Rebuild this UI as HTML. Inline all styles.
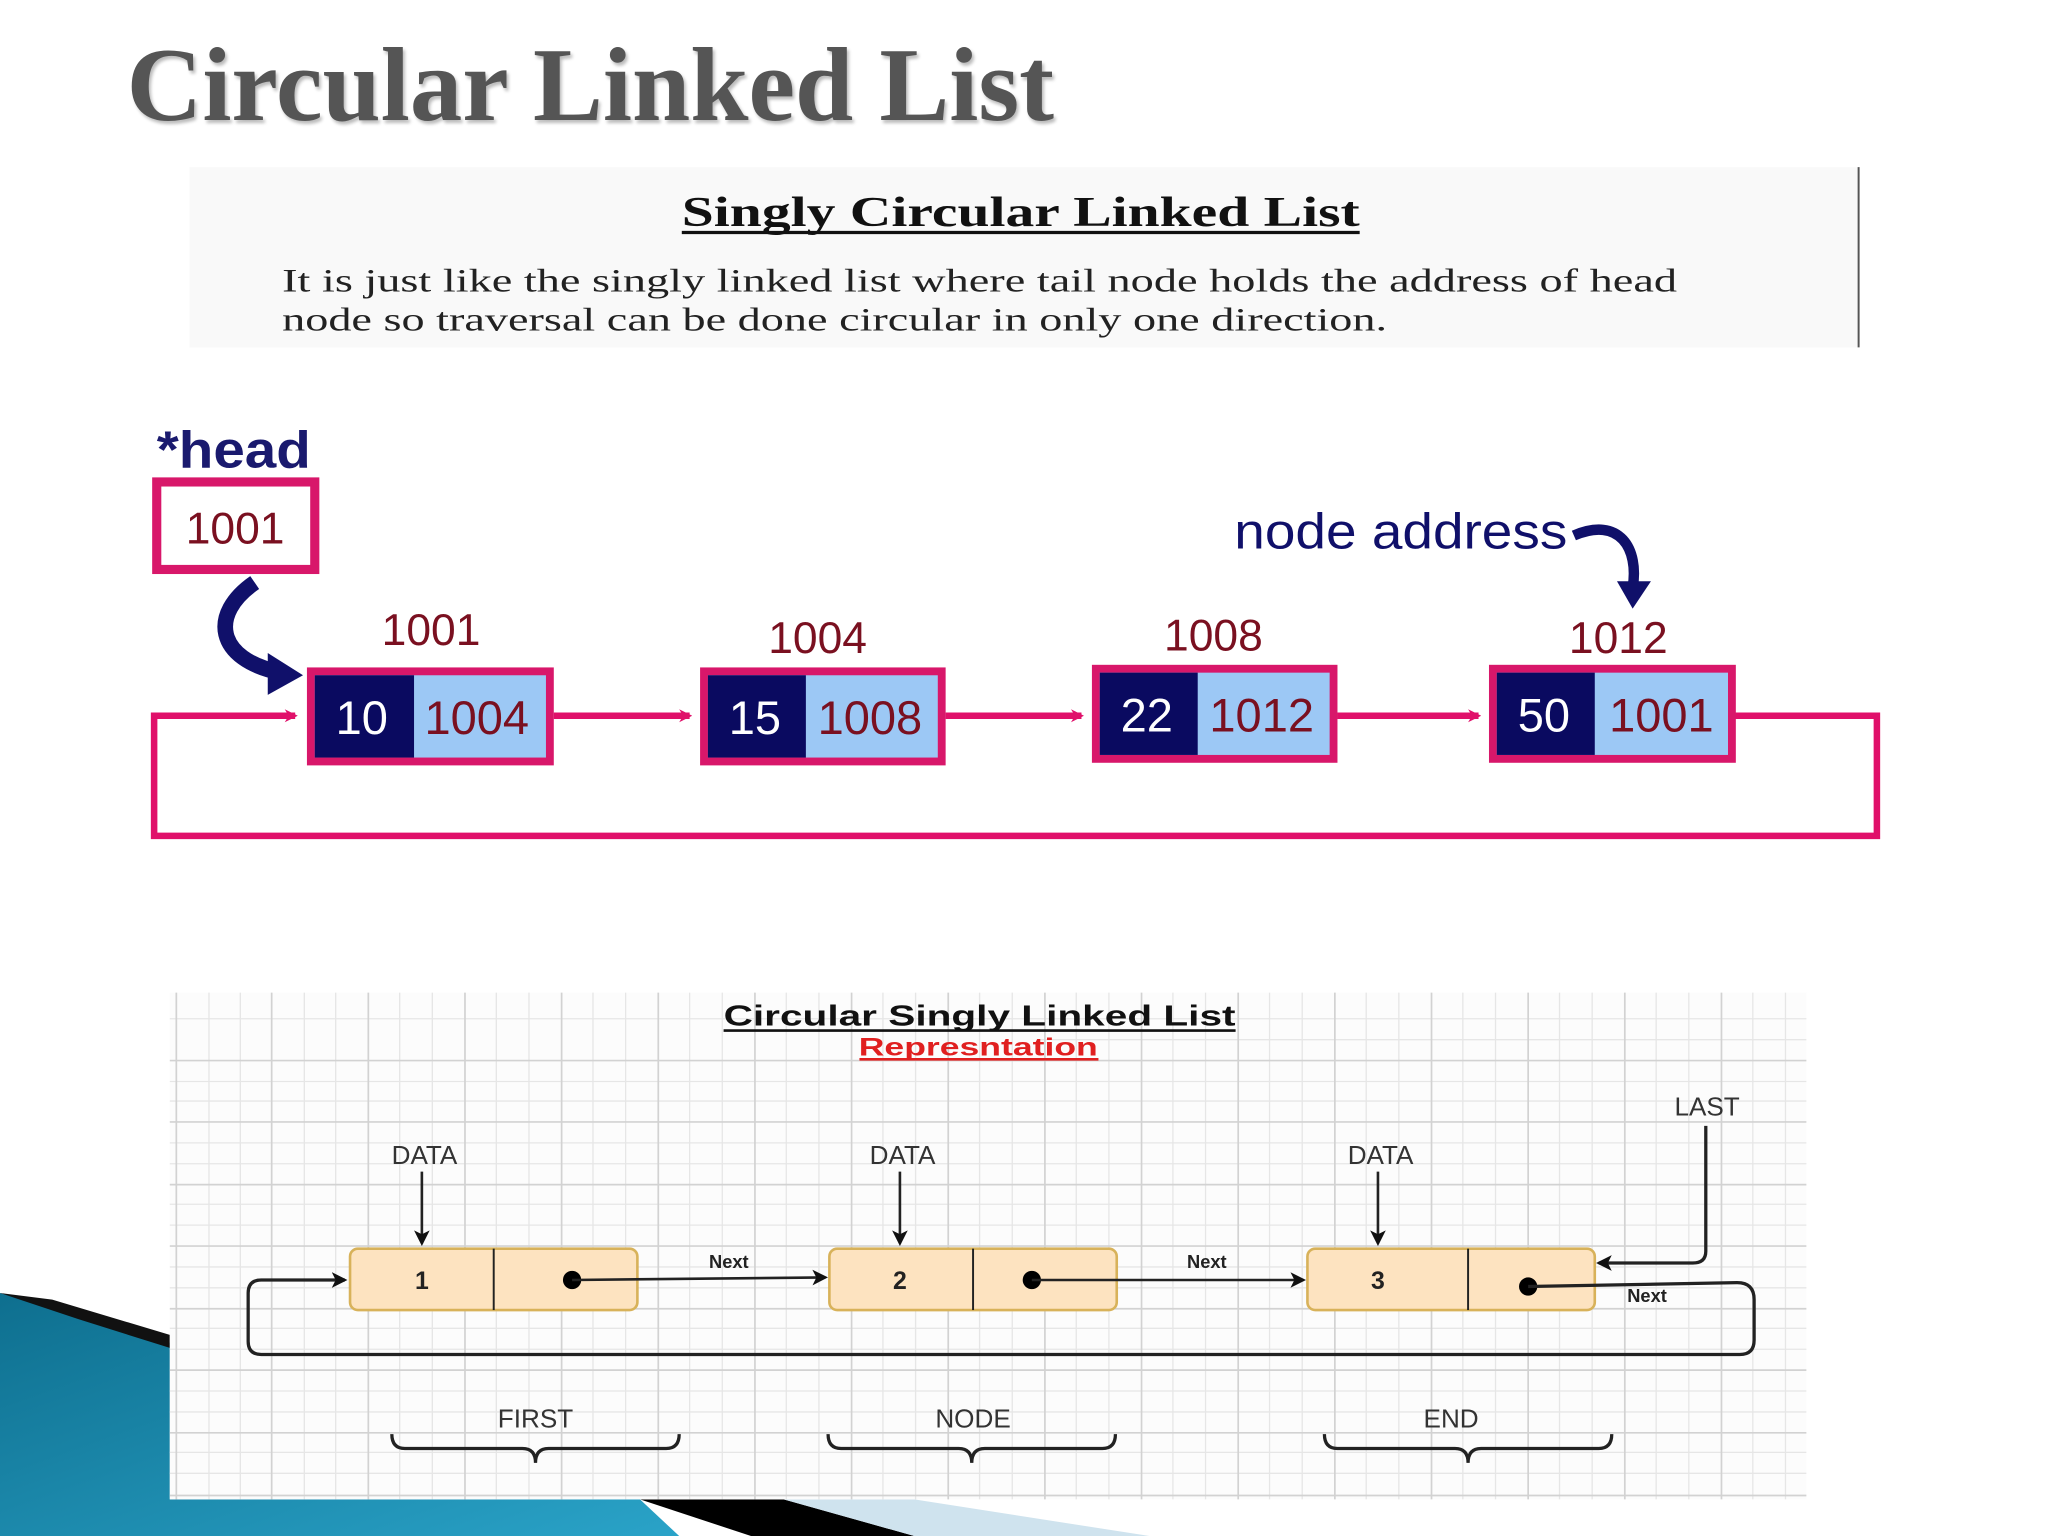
<!DOCTYPE html>
<html><head><meta charset="utf-8"><style>
html,body{margin:0;padding:0;background:#fff;overflow:hidden}
svg{display:block}
</style></head><body>
<svg width="2048" height="1536" viewBox="0 0 1568 1176" preserveAspectRatio="none" xmlns="http://www.w3.org/2000/svg">
<defs>
<marker id="pa" markerWidth="10" markerHeight="10" refX="8" refY="5" orient="auto" markerUnits="userSpaceOnUse"><path d="M0,0 L10,5 L0,10 L3,5Z" fill="#e0106a"/></marker>
<marker id="ba" markerWidth="12" markerHeight="12" refX="10" refY="6" orient="auto" markerUnits="userSpaceOnUse"><path d="M0,0 L12,6 L0,12 L3,6Z" fill="#111"/></marker>
<linearGradient id="tg" x1="0" y1="0" x2="1" y2="1"><stop offset="0" stop-color="#0e6f8f"/><stop offset="1" stop-color="#2aa3c8"/></linearGradient>
</defs>
<rect width="1568" height="1176" fill="#fff"/>
<!-- left decoration -->
<polygon points="0,990 130,1028 130,1148 490,1148 520,1176 0,1176" fill="url(#tg)"/>
<polygon points="0,990 40,995 130,1022 130,1032 60,1010" fill="#111"/>
<polygon points="490,1148 600,1148 700,1176 575,1176" fill="#000"/>
<polygon points="600,1148 700,1148 880,1176 700,1176" fill="#cfe3ee"/>
<!-- title -->
<text x="97" y="92" font-family="Liberation Serif,serif" font-weight="bold" font-size="80" fill="#555" textLength="710" lengthAdjust="spacingAndGlyphs" style="text-shadow:2px 3px 3px #bbb">Circular Linked List</text>
<!-- text box -->
<rect x="145" y="128" width="1278" height="138" fill="#f9f9f9"/>
<line x1="1423" y1="128" x2="1423" y2="266" stroke="#555" stroke-width="1.5"/>
<text x="522" y="173" font-family="Liberation Serif,serif" font-weight="bold" font-size="32" fill="#111" textLength="519" lengthAdjust="spacingAndGlyphs">Singly Circular Linked List</text>
<line x1="522" y1="178" x2="1041" y2="178" stroke="#111" stroke-width="2.5"/>
<text x="216" y="223" font-family="Liberation Serif,serif" font-size="25" fill="#222" textLength="1068" lengthAdjust="spacingAndGlyphs">It is just like the singly linked list where tail node holds the address of head</text>
<text x="216" y="253" font-family="Liberation Serif,serif" font-size="25" fill="#222" textLength="846" lengthAdjust="spacingAndGlyphs">node so traversal can be done circular in only one direction.</text>
<!-- top diagram -->
<text x="120" y="358" font-family="Liberation Sans,sans-serif" font-weight="bold" font-size="40" fill="#1a1a6e" textLength="118" lengthAdjust="spacingAndGlyphs">*head</text>
<rect x="120" y="369" width="121" height="67" fill="#fff" stroke="#d8176a" stroke-width="7"/>
<text x="180" y="416" text-anchor="middle" font-family="Liberation Sans,sans-serif" font-size="34" fill="#7a1020">1001</text>
<path d="M195,446 C160,470 165,505 215,515" fill="none" stroke="#10106a" stroke-width="12"/>
<polygon points="205,500 232,517 205,532" fill="#10106a"/>
<text x="945" y="420" font-family="Liberation Sans,sans-serif" font-size="38" fill="#10106a" textLength="255" lengthAdjust="spacingAndGlyphs">node address</text>
<path d="M1205,410 C1240,395 1255,420 1250,450" fill="none" stroke="#10106a" stroke-width="8"/>
<polygon points="1238,445 1264,445 1250,466" fill="#10106a"/>
<!-- loop -->
<path d="M1328,548 L1437,548 L1437,640 L118,640 L118,548 L226,548" fill="none" stroke="#e0106a" stroke-width="5" marker-end="url(#pa)"/>
<g font-family="Liberation Sans,sans-serif">
<g>
<rect x="238" y="514" width="183" height="69" fill="#9cc8f5" stroke="#d8176a" stroke-width="6"/>
<rect x="241" y="517" width="76" height="63" fill="#0a0a60"/>
<text x="277" y="562" text-anchor="middle" font-size="36" fill="#fff">10</text>
<text x="365" y="562" text-anchor="middle" font-size="36" fill="#7a1020">1004</text>
<text x="330" y="494" text-anchor="middle" font-size="34" fill="#7a1020">1001</text>
</g>
<g>
<rect x="539" y="514" width="182" height="69" fill="#9cc8f5" stroke="#d8176a" stroke-width="6"/>
<rect x="542" y="517" width="75" height="63" fill="#0a0a60"/>
<text x="578" y="562" text-anchor="middle" font-size="36" fill="#fff">15</text>
<text x="666" y="562" text-anchor="middle" font-size="36" fill="#7a1020">1008</text>
<text x="626" y="500" text-anchor="middle" font-size="34" fill="#7a1020">1004</text>
</g>
<g>
<rect x="839" y="512" width="182" height="69" fill="#9cc8f5" stroke="#d8176a" stroke-width="6"/>
<rect x="842" y="515" width="75" height="63" fill="#0a0a60"/>
<text x="878" y="560" text-anchor="middle" font-size="36" fill="#fff">22</text>
<text x="966" y="560" text-anchor="middle" font-size="36" fill="#7a1020">1012</text>
<text x="929" y="498" text-anchor="middle" font-size="34" fill="#7a1020">1008</text>
</g>
<g>
<rect x="1143" y="512" width="183" height="69" fill="#9cc8f5" stroke="#d8176a" stroke-width="6"/>
<rect x="1146" y="515" width="75" height="63" fill="#0a0a60"/>
<text x="1182" y="560" text-anchor="middle" font-size="36" fill="#fff">50</text>
<text x="1272" y="560" text-anchor="middle" font-size="36" fill="#7a1020">1001</text>
<text x="1239" y="500" text-anchor="middle" font-size="34" fill="#7a1020">1012</text>
</g>
</g>
<line x1="424" y1="548" x2="528" y2="548" stroke="#e0106a" stroke-width="5" marker-end="url(#pa)"/>
<line x1="724" y1="548" x2="828" y2="548" stroke="#e0106a" stroke-width="5" marker-end="url(#pa)"/>
<line x1="1024" y1="548" x2="1132" y2="548" stroke="#e0106a" stroke-width="5" marker-end="url(#pa)"/>
<!-- bottom panel -->
<rect x="130" y="760" width="1253" height="388" fill="#fcfcfc"/>
<g stroke="#e6e6e6" stroke-width="1">
<path d="M160,760V1148M184,760V1148M233,760V1148M257,760V1148M306,760V1148M331,760V1148M380,760V1148M405,760V1148M454,760V1148M479,760V1148M528,760V1148M553,760V1148M602,760V1148M627,760V1148M676,760V1148M701,760V1148M750,760V1148M775,760V1148M824,760V1148M849,760V1148M898,760V1148M923,760V1148M972,760V1148M997,760V1148M1046,760V1148M1071,760V1148M1120,760V1148M1145,760V1148M1194,760V1148M1219,760V1148M1268,760V1148M1293,760V1148M1342,760V1148M1367,760V1148"/>
<path d="M130,780H1383M796,796H1383M130,828H1383M130,843H1383M130,875H1383M130,891H1383M130,922H1383M130,938H1383M130,970H1383M130,986H1383M130,1017H1383M130,1033H1383M130,1065H1383M130,1081H1383M130,1112H1383M130,1128H1383"/>
</g>
<g stroke="#d2d2d2" stroke-width="1.3">
<path d="M135,760V1148M208,760V1148M282,760V1148M356,760V1148M430,760V1148M504,760V1148M578,760V1148M652,760V1148M726,760V1148M800,760V1148M874,760V1148M948,760V1148M1022,760V1148M1096,760V1148M1170,760V1148M1244,760V1148M1318,760V1148"/>
<path d="M130,812H1383M130,859H1383M130,907H1383M130,954H1383M130,1002H1383M130,1049H1383M130,1097H1383M130,1145H1383"/>
</g>
<g font-family="Liberation Sans,sans-serif">
<text x="750" y="785" text-anchor="middle" font-weight="bold" font-size="22" fill="#111" textLength="392" lengthAdjust="spacingAndGlyphs">Circular Singly Linked List</text>
<line x1="554" y1="789" x2="946" y2="789" stroke="#111" stroke-width="2"/>
<text x="749" y="808" text-anchor="middle" font-weight="bold" font-size="19" fill="#e02020" textLength="183" lengthAdjust="spacingAndGlyphs">Represntation</text>
<line x1="658" y1="811" x2="841" y2="811" stroke="#e02020" stroke-width="2"/>
<g fill="#fde3c0" stroke="#d8b25a" stroke-width="2">
<rect x="268" y="956" width="220" height="47" rx="6"/>
<rect x="635" y="956" width="220" height="47" rx="6"/>
<rect x="1001" y="956" width="220" height="47" rx="6"/>
</g>
<g stroke="#222" stroke-width="1.5">
<line x1="378" y1="956" x2="378" y2="1003"/><line x1="745" y1="956" x2="745" y2="1003"/><line x1="1124" y1="956" x2="1124" y2="1003"/>
</g>
<g font-size="19" font-weight="bold" fill="#222" text-anchor="middle">
<text x="323" y="987">1</text><text x="689" y="987">2</text><text x="1055" y="987">3</text>
</g>
<g fill="#000"><circle cx="438" cy="980" r="7"/><circle cx="790" cy="980" r="7"/><circle cx="1170" cy="985" r="7"/></g>
<g stroke="#222" stroke-width="2" fill="none">
<line x1="438" y1="980" x2="632" y2="978" marker-end="url(#ba)"/>
<line x1="790" y1="980" x2="998" y2="980" marker-end="url(#ba)"/>
<line x1="323" y1="897" x2="323" y2="952" marker-end="url(#ba)"/>
<line x1="689" y1="897" x2="689" y2="952" marker-end="url(#ba)"/>
<line x1="1055" y1="897" x2="1055" y2="952" marker-end="url(#ba)"/>
<path d="M1306,862 L1306,958 Q1306,967 1296,967 L1224,967" marker-end="url(#ba)" stroke-width="2.5"/>
<path d="M1170,985 L1330,982 Q1343,982 1343,995 L1343,1026 Q1343,1037 1332,1037 L200,1037 Q190,1037 190,1027 L190,990 Q190,980 200,980 L264,980" marker-end="url(#ba)" stroke-width="2.5"/>
</g>
<g font-size="20" fill="#333" text-anchor="middle">
<text x="325" y="891">DATA</text><text x="691" y="891">DATA</text><text x="1057" y="891">DATA</text>
<text x="1307" y="854">LAST</text>
<text x="410" y="1093">FIRST</text><text x="745" y="1093">NODE</text><text x="1111" y="1093">END</text>
</g>
<g font-size="14" font-weight="bold" fill="#222" text-anchor="middle">
<text x="558" y="971">Next</text><text x="924" y="971">Next</text><text x="1261" y="997">Next</text>
</g>
<g stroke="#222" stroke-width="2.5" fill="none">
<path d="M300,1098 Q300,1109 310,1109 L400,1109 Q410,1109 410,1120 Q410,1109 420,1109 L510,1109 Q520,1109 520,1098"/>
<path d="M634,1098 Q634,1109 644,1109 L734,1109 Q744,1109 744,1120 Q744,1109 754,1109 L844,1109 Q854,1109 854,1098"/>
<path d="M1014,1098 Q1014,1109 1024,1109 L1114,1109 Q1124,1109 1124,1120 Q1124,1109 1134,1109 L1224,1109 Q1234,1109 1234,1098"/>
</g>
</g>
</svg>
</body></html>
